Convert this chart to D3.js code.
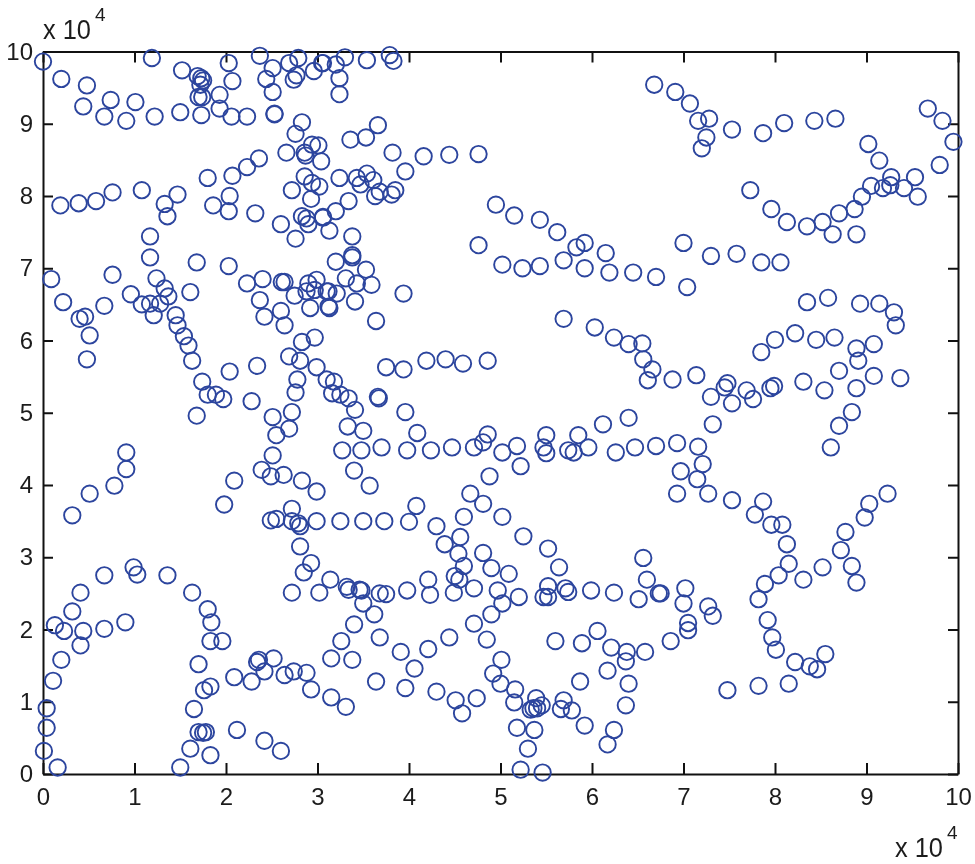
<!DOCTYPE html>
<html>
<head>
<meta charset="utf-8">
<script src="https://cdn.jsdelivr.net/npm/d3@7/dist/d3.min.js"></script>
<style>
html,body{margin:0;padding:0;background:#fff;}
svg{display:block;filter:blur(0.4px);}
text{font-family:"Liberation Sans",Arial,sans-serif;fill:#1c1c1c;}
</style>
</head>
<body>
<svg id="chart" width="975" height="864"></svg>
<script>
const tickValues = [0,1,2,3,4,5,6,7,8,9,10];
const exponentBase = "x 10";
const exponentPower = "4";
const topRows = [
[0,9.86],[.20,9.62],[.48,9.53],[.44,9.24],[.74,9.33],[.67,9.10],[.91,9.04],[1.01,9.30],[1.22,9.10],[1.19,9.91],
[1.52,9.74],[1.50,9.16],[1.73,9.12],[1.69,9.66],[1.73,9.63],[1.75,9.60],[1.72,9.54],[1.70,9.37],[1.74,9.37],[1.93,9.40],
[1.93,9.21],[2.06,9.10],[2.23,9.10],[2.03,9.84],[2.07,9.59],[2.37,9.94],[2.51,9.77],[2.44,9.62],[2.51,9.44],[2.53,9.14],
[2.53,9.13],[2.69,9.84],[2.79,9.91],[2.74,9.61],[2.77,9.67],[2.96,9.73],[3.05,9.84],[3.06,9.84],[3.20,9.82],[3.30,9.92],
[3.54,9.88],[3.79,9.95],[3.83,9.87],[3.24,9.63],[3.24,9.41],[3.66,8.98],[3.53,8.81],[3.36,8.78],[3.82,8.60],[4.16,8.55],
[4.44,8.57],[4.76,8.58],[3.96,8.34],[4.95,7.88],[5.15,7.73],[5.43,7.67],[5.62,7.50],[5.92,7.35],[5.83,7.29],[6.15,7.21],
[5.69,7.11],[5.92,7.00],[6.19,6.94],[6.45,6.94],[5.43,7.03],[5.24,7.00],[5.02,7.05],[4.76,7.32],
[3.24,8.25],[3.43,8.25],[3.47,8.16],[3.54,8.31],[3.61,8.22],[3.63,8.00],[3.68,8.06],[3.81,8.02],[3.85,8.08],[3.34,7.93],
[3.20,7.79],[3.06,7.71],[3.13,7.52],[3.38,7.44],[3.38,7.18],[3.38,7.15],[3.20,7.09],[3.53,6.98],[3.31,6.86],[3.43,6.79],
[3.59,6.77],[3.94,6.65],
[2.83,9.02],[2.76,8.86],[2.66,8.60],[2.86,8.60],[2.87,8.56],[2.94,8.71],[3.01,8.70],[3.04,8.48],[2.36,8.52],[2.23,8.40],
[2.07,8.28],[1.80,8.25],[2.86,8.27],[2.94,8.18],[3.02,8.13],[2.72,8.08],[2.93,7.96],[2.04,8.00],[1.86,7.87],[2.03,7.79],
[2.32,7.76],[1.47,8.02],[1.33,7.89],[1.36,7.72],[1.08,8.08],[.76,8.05],[.58,7.93],[.39,7.90],[.19,7.87],[2.60,7.61],
[2.83,7.72],[2.88,7.69],[2.90,7.61],[3.06,7.70],[2.76,7.41],[1.17,7.44],[1.17,7.15],[1.68,7.08],[2.03,7.03],[.76,6.91],
[.09,6.85],[1.24,6.86],[2.23,6.79],[2.40,6.85],[2.61,6.81],[2.64,6.81],[2.90,6.79],[2.99,6.84]
];
const topRightRows = [
[6.68,9.54],[6.91,9.44],[7.07,9.28],[7.16,9.04],[7.28,9.07],[7.25,8.81],[7.20,8.66],[7.53,8.92],[7.87,8.87],[8.10,9.01],
[8.43,9.04],[8.66,9.07],[9.67,9.21],[9.83,9.04],[9.95,8.75],[9.02,8.72],[9.14,8.49],[9.80,8.43],[9.27,8.26],[9.53,8.26],
[9.05,8.14],[9.18,8.11],[9.26,8.15],[9.41,8.11],[9.56,7.99],[8.95,7.99],[8.87,7.82],[8.70,7.76],[8.52,7.64],[8.35,7.58],
[8.13,7.64],[7.96,7.82],[7.73,8.08],[8.63,7.47],[8.89,7.47],[7.00,7.35],[7.30,7.17],[7.58,7.20],[7.85,7.08],[8.06,7.08],
[6.70,6.88],[7.04,6.74]
];
const middleLeftRows = [
[.22,6.53],[.40,6.30],[.46,6.33],[.67,6.48],[.51,6.07],[.48,5.74],[.96,6.64],[1.08,6.50],[1.17,6.51],[1.33,6.72],
[1.37,6.61],[1.28,6.51],[1.21,6.35],[1.61,6.67],[1.45,6.35],[1.47,6.21],[1.54,6.06],[1.59,5.93],[1.63,5.72],[1.74,5.43],
[1.80,5.25],[1.89,5.25],[1.97,5.19],[1.68,4.96],[2.04,5.57],[2.34,5.65],[2.28,5.16],[.91,4.45],[.91,4.22],[.78,3.99],
[.51,3.88],[.32,3.58],[2.09,4.06],[1.98,3.73],[2.37,6.56],[2.42,6.33],[2.60,6.41],[2.64,6.21],[2.75,6.62],[2.92,6.45],
[2.83,5.98],[2.97,6.04],[2.69,5.78],[2.81,5.72],[2.99,5.63],[2.78,5.46],[2.76,5.28],[2.72,5.01],[2.51,4.94],[2.69,4.78],
[2.55,4.69],[2.51,4.41],[2.39,4.21],[2.49,4.12],[2.63,4.14],[2.83,4.06],[2.99,3.91],[2.72,3.67],[2.49,3.51],[2.55,3.53],
[2.72,3.50],[2.79,3.47],[2.81,3.43],[2.99,3.50],[2.81,3.15],[2.93,2.92],[2.88,6.68],[2.97,6.70],[3.12,6.68],[3.12,6.47],
[3.10,6.68],[3.21,6.65],[3.41,6.54],[3.13,6.45],[3.64,6.27]
];
const middleRows = [
[5.69,6.30],[6.03,6.18],[6.24,6.04],[6.40,5.95],[6.55,5.96],[6.56,5.74],[6.61,5.45],[6.66,5.60],[3.75,5.63],[3.94,5.60],
[4.19,5.72],[4.40,5.74],[4.59,5.68],[4.86,5.72],[3.10,5.46],[3.18,5.43],[3.16,5.27],[3.25,5.25],[3.34,5.20],[3.41,5.04],
[3.66,5.22],[3.67,5.20],[3.96,5.01],[3.33,4.81],[3.50,4.75],[4.09,4.72],[3.27,4.48],[3.48,4.48],[3.70,4.52],[3.98,4.48],
[4.24,4.48],[4.47,4.52],[4.71,4.52],[4.81,4.59],[4.86,4.70],[5.02,4.45],[5.18,4.54],[5.22,4.26],[5.50,4.69],[5.47,4.52],
[5.50,4.44],[5.74,4.48],[5.80,4.45],[5.85,4.69],[5.96,4.52],[6.12,4.84],[6.40,4.93],[6.26,4.45],[6.47,4.52],[4.88,4.12],
[3.40,4.20],[3.57,3.99],[4.67,3.88],[4.81,3.74],[5.02,3.56],[4.60,3.56],[4.08,3.71],[4.00,3.49],[3.73,3.50],[3.50,3.50],
[3.25,3.50],[4.30,3.43],[4.56,3.28],[4.39,3.18],[4.54,3.05],[4.81,3.06],[5.25,3.29],[5.52,3.12]
];
const middleRightRows = [
[8.35,6.53],[8.58,6.59],[8.93,6.51],[9.14,6.51],[9.30,6.39],[9.32,6.21],[8.22,6.10],[8.00,6.01],[7.85,5.84],[8.45,6.01],
[8.65,6.04],[8.89,5.89],[9.08,5.95],[8.91,5.72],[8.70,5.58],[9.08,5.51],[9.37,5.48],[8.31,5.43],[8.54,5.31],[8.89,5.34],
[8.84,5.01],[8.70,4.82],[8.61,4.52],[6.88,5.46],[7.14,5.52],[7.30,5.22],[7.48,5.41],[7.45,5.35],[7.53,5.13],[7.69,5.31],
[7.76,5.19],[7.95,5.34],[7.99,5.37],[7.32,4.84],[6.70,4.54],[6.93,4.58],[7.16,4.53],[7.21,4.29],[6.97,4.19],[7.15,4.08],
[6.93,3.88],[7.27,3.88],[7.53,3.79],[7.87,3.77],[7.78,3.59],[7.96,3.45],[8.08,3.45],[8.13,3.18],[9.23,3.88],[9.03,3.74],
[8.98,3.55],[8.77,3.35],[8.72,3.10],[6.56,2.99]
];
const bottomLeftRows = [
[.67,2.75],[.99,2.86],[1.03,2.76],[1.36,2.75],[.41,2.51],[1.63,2.51],[.32,2.25],[1.80,2.28],[1.84,2.10],[.13,2.06],
[.23,1.98],[.44,1.98],[.67,2.01],[.90,2.10],[.41,1.78],[1.83,1.84],[1.96,1.84],[.20,1.58],[.11,1.29],[.04,.91],
[.04,.64],[.01,.32],[.16,.09],[1.50,.09],[1.61,.35],[1.83,.26],[1.70,.58],[1.78,.58],[1.75,.57],[1.65,.90],
[1.76,1.16],[1.83,1.21],[1.70,1.52],[2.12,.61],[2.42,.46],[2.60,.32],[2.09,1.34],[2.28,1.28],[2.34,1.55],[2.36,1.58],
[2.42,1.42],[2.52,1.60],[2.64,1.37],[2.74,1.42],[2.88,1.40],[2.93,1.17],[2.72,2.51],[2.85,2.79],[3.02,2.51]
];
const bottomRows = [
[3.14,2.69],[3.32,2.59],[3.34,2.55],[3.46,2.55],[3.48,2.54],[3.68,2.50],[3.75,2.49],[3.98,2.54],[4.21,2.69],[4.23,2.48],
[4.49,2.51],[4.50,2.74],[4.55,2.69],[4.60,2.88],[4.71,2.57],[4.90,2.85],[5.09,2.77],[4.97,2.54],[5.20,2.45],[5.02,2.36],
[4.90,2.21],[4.71,2.08],[4.85,1.86],[4.44,1.89],[4.21,1.73],[3.91,1.69],[4.06,1.46],[3.96,1.19],[3.68,1.89],[3.50,2.36],
[3.62,2.21],[3.40,2.07],[3.26,1.84],[3.15,1.60],[3.38,1.58],[3.64,1.28],[3.15,1.06],[3.31,.93],[4.30,1.14],[4.51,1.02],
[4.74,1.05],[4.58,.84],[5.01,1.58],[4.92,1.39],[5.00,1.25],[5.16,1.17],[5.15,.99],[5.18,.64],[5.37,.61],[5.30,.35],
[5.22,.06],[5.46,.02],[5.39,1.05],[5.45,.95],[5.36,.91],[5.40,.91],[5.33,.89],[5.69,1.02],[5.66,.90],[5.78,.88],
[5.92,.67],[5.87,1.28],[5.60,1.84],[5.89,1.81],[6.06,1.98],[6.21,1.75],[6.38,1.69],[6.37,1.56],[6.58,1.69],[6.17,1.43],
[6.40,1.25],[6.37,.95],[6.24,.61],[6.17,.41],[5.52,2.60],[5.52,2.45],[5.47,2.45],[5.71,2.57],[5.74,2.52],[5.64,2.86],
[5.99,2.54],[6.24,2.51],[6.51,2.42]
];
const bottomRightRows = [
[6.60,2.69],[6.73,2.50],[6.75,2.50],[7.02,2.57],[7.00,2.36],[7.27,2.32],[7.32,2.19],[7.05,2.09],[7.05,1.99],[6.86,1.84],
[7.48,1.16],[7.82,1.22],[8.15,1.25],[8.22,1.55],[8.38,1.49],[8.46,1.45],[8.55,1.66],[8.01,1.72],[7.97,1.89],[7.92,2.13],
[7.82,2.42],[7.89,2.63],[8.04,2.75],[8.15,2.91],[8.31,2.69],[8.52,2.86],[8.84,2.88],[8.89,2.65]
];
const nodes = [...topRows,...topRightRows,...middleLeftRows,...middleRows,...middleRightRows,...bottomLeftRows,...bottomRows,...bottomRightRows];

const svg = d3.select("#chart");
const x = d3.scaleLinear().domain([0,10]).range([43,958]);
const y = d3.scaleLinear().domain([0,10]).range([774,51.5]);
const fmt = d => String(d);

const axes = svg.append("g");
const style = g => {
  g.selectAll("path").attr("stroke","#111").attr("stroke-width",2);
  g.selectAll("line").attr("stroke","#111").attr("stroke-width",2);
  g.selectAll("text").attr("font-size",24).attr("fill","#1c1c1c");
};
axes.append("g").attr("transform","translate(0,774)")
  .call(d3.axisBottom(x).tickValues(tickValues).tickFormat(fmt).tickSizeInner(-11).tickSizeOuter(0).tickPadding(14))
  .call(style).call(g=>g.selectAll("text").attr("font-family","Liberation Sans").attr("dy","0.71em"));
axes.append("g").attr("transform","translate(43,0)")
  .call(d3.axisLeft(y).tickValues(tickValues).tickFormat(fmt).tickSizeInner(-10).tickSizeOuter(0).tickPadding(10))
  .call(style).call(g=>g.selectAll("text").attr("font-family","Liberation Sans"));
axes.append("g").attr("transform","translate(0,51.5)")
  .call(d3.axisTop(x).tickValues(tickValues).tickFormat("").tickSizeInner(-11).tickSizeOuter(0)).call(style);
axes.append("g").attr("transform","translate(958,0)")
  .call(d3.axisRight(y).tickValues(tickValues).tickFormat("").tickSizeInner(-10).tickSizeOuter(0)).call(style);

svg.append("g").selectAll("circle").data(nodes).join("circle")
  .attr("cx",d=>x(d[0])).attr("cy",d=>y(d[1])).attr("r",8.2)
  .attr("fill","none").attr("stroke","#2c459e").attr("stroke-width",1.9);

const exponent = (xp,yp,xs,ys) => {
  svg.append("text").attr("x",xp).attr("y",yp).attr("font-size",28)
    .attr("textLength",48).attr("lengthAdjust","spacingAndGlyphs").text(exponentBase);
  svg.append("text").attr("x",xs).attr("y",ys).attr("font-size",19).text(exponentPower);
};
exponent(43,39,95,21);
exponent(895,857,947,839);
</script>
</body>
</html>
